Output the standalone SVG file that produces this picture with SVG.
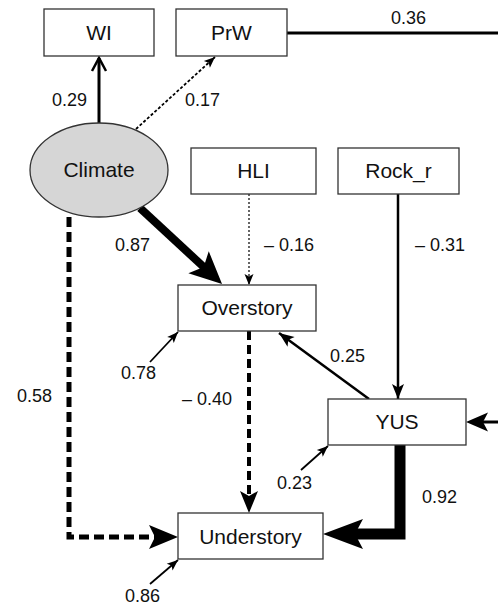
<svg xmlns="http://www.w3.org/2000/svg" width="498" height="607" viewBox="0 0 498 607">
<defs>
<style>
.box{fill:#fff;stroke:#333;stroke-width:1.3}
.ell{fill:#d6d6d6;stroke:#333;stroke-width:1.3}
.nt{font-family:"Liberation Sans",Arial,sans-serif;font-size:21px;fill:#111;text-anchor:middle}
.lb{font-family:"Liberation Sans",Arial,sans-serif;font-size:18px;fill:#111}
.c{fill:none;stroke:#000}
.ah{fill:#000;stroke:none}
</style>
<marker id="m-sm" markerUnits="userSpaceOnUse" markerWidth="11" markerHeight="9" refX="11" refY="4.5" orient="auto" overflow="visible"><path class="ah" d="M0,0 L11,4.5 L0,9 L2.5,4.5 z"/></marker>
<marker id="m-md" markerUnits="userSpaceOnUse" markerWidth="15" markerHeight="12" refX="15" refY="6" orient="auto" overflow="visible"><path class="ah" d="M0,0 L15,6 L0,12 L3.5,6 z"/></marker>
<marker id="m-rt" markerUnits="userSpaceOnUse" markerWidth="22" markerHeight="19" refX="14" refY="9.5" orient="auto" overflow="visible"><path class="ah" d="M0,0 L22,9.5 L0,19 L5,9.5 z"/></marker>
<marker id="m-87" markerUnits="userSpaceOnUse" markerWidth="32" markerHeight="30" refX="16" refY="15" orient="auto" overflow="visible"><path class="ah" d="M0,0 L32,15 L0,30 L7,15 z"/></marker>
<marker id="m-92" markerUnits="userSpaceOnUse" markerWidth="40" markerHeight="30" refX="20" refY="15" orient="auto" overflow="visible"><path class="ah" d="M0,0 L40,15 L0,30 L8,15 z"/></marker>
<marker id="m-58" markerUnits="userSpaceOnUse" markerWidth="29" markerHeight="24" refX="15" refY="12" orient="auto" overflow="visible"><path class="ah" d="M0,0 L29,12 L0,24 L6,12 z"/></marker>
<marker id="m-40" markerUnits="userSpaceOnUse" markerWidth="22" markerHeight="18" refX="11" refY="9" orient="auto" overflow="visible"><path class="ah" d="M0,0 L22,9 L0,18 L5,9 z"/></marker>
<marker id="m-open" markerUnits="userSpaceOnUse" markerWidth="14" markerHeight="16" refX="13" refY="7" orient="auto" overflow="visible"><path d="M0,0 L13,7 L0,14" fill="none" stroke="#000" stroke-width="2.5"/></marker>
</defs>
<rect width="498" height="607" fill="#fff"/>

<g id="connectors">
<path class="c" d="M99,123 V58" stroke-width="3" marker-end="url(#m-open)"/>
<path class="c" d="M136,129 L215,57" stroke-width="1.8" stroke-dasharray="3,2" marker-end="url(#m-sm)"/>
<path class="c" d="M287,33 H498" stroke-width="3"/>
<path class="c" d="M249,194 V285" stroke-width="1.2" stroke-dasharray="2,2" marker-end="url(#m-sm)"/>
<path class="c" d="M398,194 V399" stroke-width="2.5" marker-end="url(#m-md)"/>
<path class="c" d="M140,208 L210.3,273.1" stroke-width="8" marker-end="url(#m-87)"/>
<path class="c" d="M69,217 V537 H164" stroke-width="5" stroke-dasharray="10,5" marker-end="url(#m-58)"/>
<path class="c" d="M249,331 V502" stroke-width="4" stroke-dasharray="9,5" marker-end="url(#m-40)"/>
<path class="c" d="M369,399 L279,333" stroke-width="2.5" marker-end="url(#m-md)"/>
<path class="c" d="M498,422 H474" stroke-width="3" marker-end="url(#m-rt)"/>
<path class="c" d="M400,445 V534 H343" stroke-width="11" stroke-linejoin="miter" marker-end="url(#m-92)"/>
<path class="c" d="M150,362 L178,332" stroke-width="1.8" marker-end="url(#m-sm)"/>
<path class="c" d="M301,470 L328,446" stroke-width="1.8" marker-end="url(#m-sm)"/>
<path class="c" d="M150,584 L178,560" stroke-width="1.8" marker-end="url(#m-sm)"/>
<text class="lb" x="52" y="106">0.29</text>
<text class="lb" x="185" y="106">0.17</text>
<text class="lb" x="391" y="24">0.36</text>
<text class="lb" x="115" y="251">0.87</text>
<text class="lb" x="264" y="251">– 0.16</text>
<text class="lb" x="415" y="251">– 0.31</text>
<text class="lb" x="121" y="379">0.78</text>
<text class="lb" x="17" y="402">0.58</text>
<text class="lb" x="182" y="405">– 0.40</text>
<text class="lb" x="330" y="362">0.25</text>
<text class="lb" x="277" y="489">0.23</text>
<text class="lb" x="422" y="503">0.92</text>
<text class="lb" x="125" y="602">0.86</text>
</g>

<g id="WI"><rect class="box" x="44" y="9" width="110" height="47"/><text class="nt" x="99" y="40">WI</text></g>
<g id="PrW"><rect class="box" x="176" y="9" width="111" height="47"/><text class="nt" x="231.5" y="40">PrW</text></g>
<g id="Climate"><ellipse class="ell" cx="99" cy="170" rx="69" ry="47"/><text class="nt" x="99" y="177">Climate</text></g>
<g id="HLI"><rect class="box" x="191" y="148" width="125" height="46"/><text class="nt" x="253.5" y="178">HLI</text></g>
<g id="Rock_r"><rect class="box" x="338" y="148" width="121" height="46"/><text class="nt" x="398.5" y="178">Rock_r</text></g>
<g id="Overstory"><rect class="box" x="178" y="285" width="138" height="46"/><text class="nt" x="247" y="315">Overstory</text></g>
<g id="YUS"><rect class="box" x="328" y="399" width="138" height="46"/><text class="nt" x="397" y="429">YUS</text></g>
<g id="Understory"><rect class="box" x="178" y="513" width="145" height="46"/><text class="nt" x="250.5" y="544">Understory</text></g>
</svg>
